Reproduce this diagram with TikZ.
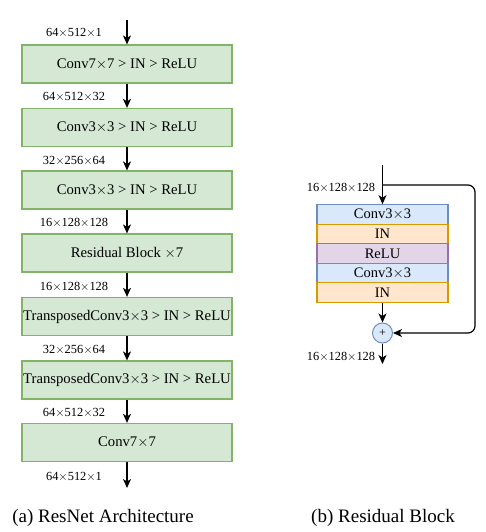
\documentclass[tikz,border=0pt]{standalone}
\usepackage{fontspec}
\setmainfont{Liberation Serif}
\usetikzlibrary{arrows.meta}

\definecolor{gfill}{HTML}{D5E8D4}
\definecolor{gline}{HTML}{82B366}
\definecolor{bfill}{HTML}{DAE8FC}
\definecolor{bline}{HTML}{6C8EBF}
\definecolor{ofill}{HTML}{FFE6CC}
\definecolor{oline}{HTML}{D79B00}
\definecolor{pfill}{HTML}{E1D5E7}
\definecolor{pline}{HTML}{9673A6}

\tikzset{
  blk/.style={draw=gline,fill=gfill,line width=1.2pt,minimum width=210pt,minimum height=38pt,inner sep=0pt,font=\fontsize{14.7}{17}\selectfont},
  row/.style={line width=1.2pt,minimum width=131pt,minimum height=19.5pt,inner sep=0pt,font=\fontsize{14.5}{17}\selectfont},
  cvrow/.style={row,draw=bline,fill=bfill},
  inrow/.style={row,draw=oline,fill=ofill},
  rlrow/.style={row,draw=pline,fill=pfill},
  dim/.style={font=\fontsize{12.4}{14}\selectfont},
  capt/.style={font=\fontsize{19}{22}\selectfont}
}

\begin{document}
\begin{tikzpicture}[x=1pt,y=-1pt,->,>={Stealth[length=9pt,width=8pt,inset=2.5pt]},line width=1.2pt]
   \useasboundingbox (0,0) rectangle (485,532);

   % left column
   \coordinate (a0) at (127,20);
   \node[blk] (a1) at (127,64)  {Conv7$\times$7 > IN > ReLU};
   \node[blk] (a2) at (127,127.5) {Conv3$\times$3 > IN > ReLU};
   \node[blk] (a3) at (127,190) {Conv3$\times$3 > IN > ReLU};
   \node[blk] (a4) at (127,253) {Residual Block $\times$7};
   \node[blk] (a5) at (127,316.5) {TransposedConv3$\times$3 > IN > ReLU};
   \node[blk] (a6) at (127,380) {TransposedConv3$\times$3 > IN > ReLU};
   \node[blk] (a7) at (127,442.5) {Conv7$\times$7};
   \coordinate (a8) at (127,488);

   \node[dim] (l0) at (74,33)  {64$\times$512$\times$1};
   \node[dim] (l1) at (74,97)  {64$\times$512$\times$32};
   \node[dim] (l2) at (74,161) {32$\times$256$\times$64};
   \node[dim] (l3) at (74,223) {16$\times$128$\times$128};
   \node[dim] (l4) at (74,287) {16$\times$128$\times$128};
   \node[dim] (l5) at (74,350) {32$\times$256$\times$64};
   \node[dim] (l6) at (74,413) {64$\times$512$\times$32};
   \node[dim] (l7) at (74,477) {64$\times$512$\times$1};

   \path (a0) edge (a1);
   \path (a1) edge (a2);
   \path (a2) edge (a3);
   \path (a3) edge (a4);
   \path (a4) edge (a5);
   \path (a5) edge (a6);
   \path (a6) edge (a7);
   \path (a7) edge (a8);

   % residual block
   \coordinate (r0) at (382.5,165);
   \coordinate (sk) at (382.5,185);
   \node[cvrow] (r1) at (382.5,214.5) {Conv3$\times$3};
   \node[inrow] (r2) at (382.5,234)   {IN};
   \node[rlrow] (r3) at (382.5,253.5) {ReLU};
   \node[cvrow] (r4) at (382.5,273)   {Conv3$\times$3};
   \node[inrow] (r5) at (382.5,292.5) {IN};
   \node[circle,draw=bline,fill=bfill,line width=1pt,minimum size=20pt,inner sep=0pt,font=\fontsize{12}{13}\selectfont] (pl) at (382.5,333) {+};
   \coordinate (r6) at (382.5,364);

   \node[dim] (m0) at (341,188) {16$\times$128$\times$128};
   \node[dim] (m1) at (341,357) {16$\times$128$\times$128};

   \path (r0) edge (r1);
   \path (r5) edge (pl);
   \path (pl) edge (r6);
   \draw[rounded corners=7pt] (sk) -- ++(92.5,0) |- (pl);

   % captions
   \node[capt] (ca) at (103,518) {(a) ResNet Architecture};
   \node[capt] (cb) at (383,518) {(b) Residual Block};
\end{tikzpicture}
\end{document}
